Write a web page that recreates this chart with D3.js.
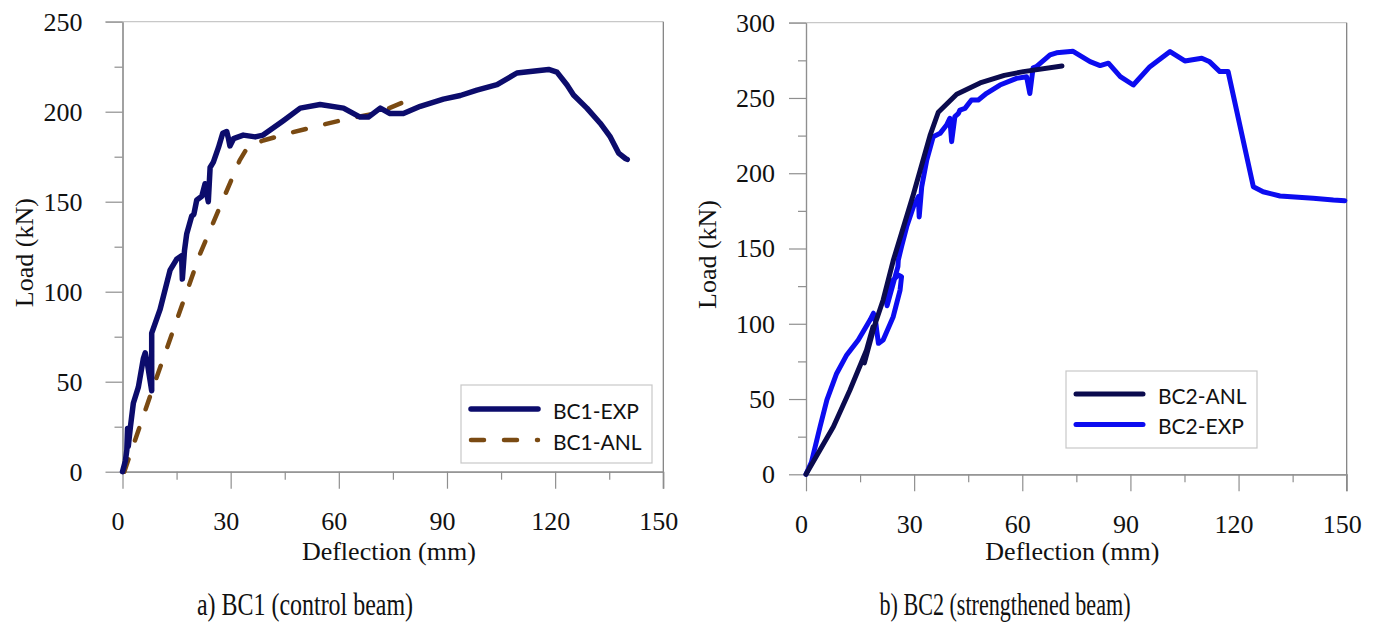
<!DOCTYPE html>
<html>
<head>
<meta charset="utf-8">
<script src="https://cdn.jsdelivr.net/npm/d3@7"></script>
<style>
  body { margin: 0; background: #fff; }
  svg { display: block; }
  .tick text { font-family: "Liberation Serif", "Times New Roman", serif; font-size: 26px; fill: #111; }
  .tick line, .domain { stroke: #8f8f8f; stroke-width: 1.2; }
  .frame-top { stroke: #c8c8c8; stroke-width: 1.2; }
  .frame-right { stroke: #7a7a7a; stroke-width: 1.2; }
  .axis-label { font-family: "Liberation Serif", "Times New Roman", serif; font-size: 26px; fill: #111; text-anchor: middle; }
  .panel-title { font-family: "Liberation Serif", "Times New Roman", serif; font-size: 31px; fill: #111; text-anchor: middle; }
  .legend-box { fill: #fff; stroke: #c8c8c8; stroke-width: 1.2; }
  .legend-text { font-family: Lato, "Liberation Sans", sans-serif; font-size: 21px; fill: #111; dominant-baseline: central; }
  .series { fill: none; stroke-linejoin: round; stroke-linecap: round; }
</style>
</head>
<body>
<div id="wrapper"></div>
<script>
// deflection (mm), load (kN)
const deflectionTicks = [0, 30, 60, 90, 120, 150];
const deflectionMinorTicks = [15, 45, 75, 105, 135];
const bc1LoadTicks = [0, 50, 100, 150, 200, 250];
const bc1LoadMinorTicks = [25, 75, 125, 175, 225];
const bc2LoadTicks = [0, 50, 100, 150, 200, 250, 300];
const bc2LoadMinorTicks = [25, 75, 125, 175, 225, 275];

const bc1Exp = [
  [0, 0], [0.8, 6], [1.2, 12], [1.4, 24], [1.6, 14], [2.2, 25], [3.0, 38], [4.4, 47],
  [5.8, 63], [6.3, 66], [7.0, 59], [8.1, 45], [8.1, 77], [10.4, 90], [13.2, 112],
  [15.0, 118], [16.4, 120], [16.6, 107], [17.2, 123], [17.8, 132], [19.2, 142],
  [19.8, 143], [20.6, 151], [22.0, 153], [22.9, 160], [23.3, 155], [23.8, 150],
  [24.3, 169], [25.2, 172], [26.6, 180], [27.8, 188], [28.9, 189], [29.4, 185],
  [29.8, 181], [30.8, 185], [33.5, 187], [36.8, 186], [39.0, 187], [44.6, 195],
  [49.3, 202], [54.8, 204], [61.3, 202], [65.9, 197], [68.2, 197], [71.5, 202],
  [74.2, 199], [77.9, 199], [82.6, 203], [89.0, 207], [93.7, 209], [98.3, 212],
  [103.9, 215], [109.4, 221.5], [115.0, 222.8], [118.2, 223.5], [120.5, 222],
  [123.3, 214.8], [125.1, 209.3], [128.8, 202], [132.5, 193.6], [135.3, 186],
  [137.6, 177], [139.5, 174], [140.0, 173.5],
];
const bc1Anl = [
  [0.5, 0], [8, 44], [21.5, 121], [32.5, 173], [34.9, 181], [39, 184], [47, 188.5],
  [55, 192.5], [63, 196.3], [68.7, 198.5], [74, 202], [80, 207],
];
const bc2Anl = [
  [0, 0], [7.6, 31.6], [12.2, 56], [16.8, 82.6], [18.6, 98], [16.2, 74], [18.9, 98],
  [21.4, 115.8], [24.2, 142], [29.8, 186], [34.4, 225], [36.7, 240.5], [41.8, 252.5],
  [48.3, 260], [55, 265], [60.3, 267.5], [71, 271.3],
];
const bc2Exp = [
  [0, 0], [1.5, 8], [3.9, 31.6], [5.8, 49.4], [8.5, 67], [11.3, 79.3], [14.5, 89.2],
  [17.8, 102.6], [18.7, 107], [19.4, 100], [19.6, 95.9], [20.1, 87], [21.4, 89.2],
  [24.2, 104.7], [26.1, 122.4], [26.5, 131.3], [25.6, 132.4], [23.3, 127], [22, 118],
  [22.5, 112], [24, 125], [25.5, 138], [25.6, 142.3], [26.5, 151.2], [28, 165],
  [29.8, 177.8], [31.2, 184.4], [31.4, 171], [32.1, 191], [33.5, 208.8], [35.3, 224.3],
  [37.2, 226.5], [39, 232], [39.9, 236.5], [40.4, 221], [41.3, 237.6], [42.3, 239.8],
  [42.7, 242], [44.1, 243.1], [45.9, 248.7], [47.8, 248.7], [50.1, 253.1], [53.8, 258.6],
  [58.4, 263], [61.2, 264.1], [62.1, 253], [63, 270], [63.9, 270.8], [67.7, 278.6],
  [69.5, 280], [74.1, 281], [78.8, 274.1], [81.6, 271.5], [83.9, 273.1], [87.2, 264.2],
  [90.8, 258.6], [95.4, 270.8], [101, 280.8], [105.1, 274.6], [109.8, 276.4],
  [112, 274], [114.8, 267.5], [117.1, 267.5], [124.1, 191], [126.8, 187.7],
  [131.5, 184.9], [140.7, 183.4], [146.3, 182.2], [149.5, 181.8],
];

function drawChart() {
  const deflectionAccessor = (d) => d[0];
  const loadAccessor = (d) => d[1];

  const wrapper = d3
    .select("#wrapper")
    .append("svg")
    .attr("width", 1381)
    .attr("height", 624);

  function drawPanel(panel) {
    const xScale = d3
      .scaleLinear()
      .domain([0, 150])
      .range([panel.left, panel.right]);
    const yScale = d3
      .scaleLinear()
      .domain([0, panel.yMax])
      .range([panel.bottom, panel.top]);

    const g = wrapper.append("g");

    //* frame
    g.append("line")
      .attr("class", "frame-top")
      .attr("x1", panel.left - 17)
      .attr("x2", panel.right)
      .attr("y1", panel.top)
      .attr("y2", panel.top);
    g.append("line")
      .attr("class", "frame-right")
      .attr("x1", panel.right)
      .attr("x2", panel.right)
      .attr("y1", panel.top)
      .attr("y2", panel.bottom + 17);

    //* axes
    g.append("g")
      .attr("transform", `translate(${panel.left},0)`)
      .call(
        d3.axisLeft(yScale).tickValues(panel.yMinor).tickSize(8).tickSizeOuter(0).tickFormat("")
      );
    g.append("g")
      .attr("transform", `translate(${panel.left},0)`)
      .call(
        d3.axisLeft(yScale).tickValues(panel.yTicks).tickSize(17).tickSizeOuter(0).tickPadding(panel.yPad)
      );

    g.append("g")
      .attr("transform", `translate(0,${panel.bottom})`)
      .call(
        d3.axisBottom(xScale).tickValues(deflectionMinorTicks).tickSize(8).tickSizeOuter(0).tickFormat("")
      );
    g.append("g")
      .attr("transform", `translate(0,${panel.bottom})`)
      .call(
        d3.axisBottom(xScale).tickValues(deflectionTicks).tickSize(17).tickSizeOuter(0).tickPadding(23)
      )
      .selectAll("text")
      .attr("dx", -5);

    g.selectAll(".domain").attr("stroke", "#8f8f8f");

    //* labels
    g.append("text")
      .attr("class", "axis-label")
      .attr("transform", `translate(${panel.yLabelX},${(panel.top + panel.bottom) / 2 + 6}) rotate(-90)`)
      .attr("dy", "0.35em")
      .text("Load (kN)");
    g.append("text")
      .attr("class", "axis-label")
      .attr("x", (panel.left + panel.right) / 2 - 4)
      .attr("y", 551)
      .attr("dy", "0.35em")
      .text("Deflection (mm)");
    g.append("text")
      .attr("class", "panel-title")
      .attr("x", panel.titleX)
      .attr("y", 604)
      .attr("dy", "0.35em")
      .attr("textLength", panel.titleLength)
      .attr("lengthAdjust", "spacingAndGlyphs")
      .text(panel.title);

    //* data
    const lineGenerator = d3
      .line()
      .x((d) => xScale(deflectionAccessor(d)))
      .y((d) => yScale(loadAccessor(d)));

    panel.series.forEach((s) => {
      g.append("path")
        .attr("class", "series")
        .attr("d", lineGenerator(s.data))
        .attr("stroke", s.color)
        .attr("stroke-width", s.width)
        .attr("stroke-dasharray", s.dash || null);
    });

    //* legend
    const lg = panel.legend;
    g.append("rect")
      .attr("class", "legend-box")
      .attr("x", lg.x)
      .attr("y", lg.y)
      .attr("width", lg.width)
      .attr("height", lg.height);
    lg.order.forEach((i, row) => {
      const s = panel.series[i];
      const rowY = lg.y + lg.firstRow + row * lg.rowGap;
      g.append("line")
        .attr("class", "series")
        .attr("x1", lg.x + 10)
        .attr("x2", lg.x + 77)
        .attr("y1", rowY)
        .attr("y2", rowY)
        .attr("stroke", s.color)
        .attr("stroke-width", s.width)
        .attr("stroke-dasharray", s.dash || null);
      g.append("text")
        .attr("class", "legend-text")
        .attr("x", lg.x + 92)
        .attr("y", rowY + 1)
        .text(s.name);
    });
  }

  drawPanel({
    left: 122.5,
    right: 663.3,
    top: 21.7,
    bottom: 471.7,
    yMax: 250,
    yTicks: bc1LoadTicks,
    yMinor: bc1LoadMinorTicks,
    yPad: 23,
    yLabelX: 24,
    titleX: 305,
    titleLength: 216,
    title: "a) BC1 (control beam)",
    series: [
      { name: "BC1-ANL", data: bc1Anl, color: "#7a4a12", width: 4.5, dash: "13,20" },
      { name: "BC1-EXP", data: bc1Exp, color: "#0c0c6c", width: 5.5 },
    ],
    legend: { x: 461, y: 385, width: 191, height: 78, firstRow: 24, rowGap: 31, order: [1, 0] },
  });

  drawPanel({
    left: 806,
    right: 1346.7,
    top: 22.7,
    bottom: 474.3,
    yMax: 300,
    yTicks: bc2LoadTicks,
    yMinor: bc2LoadMinorTicks,
    yPad: 14,
    yLabelX: 707,
    titleX: 1005,
    titleLength: 251,
    title: "b) BC2 (strengthened beam)",
    series: [
      { name: "BC2-EXP", data: bc2Exp, color: "#0c0cf0", width: 5 },
      { name: "BC2-ANL", data: bc2Anl, color: "#0b0b4e", width: 5 },
    ],
    legend: { x: 1066, y: 371, width: 191, height: 77, firstRow: 23, rowGap: 30.5, order: [1, 0] },
  });
}

drawChart();
</script>
</body>
</html>
